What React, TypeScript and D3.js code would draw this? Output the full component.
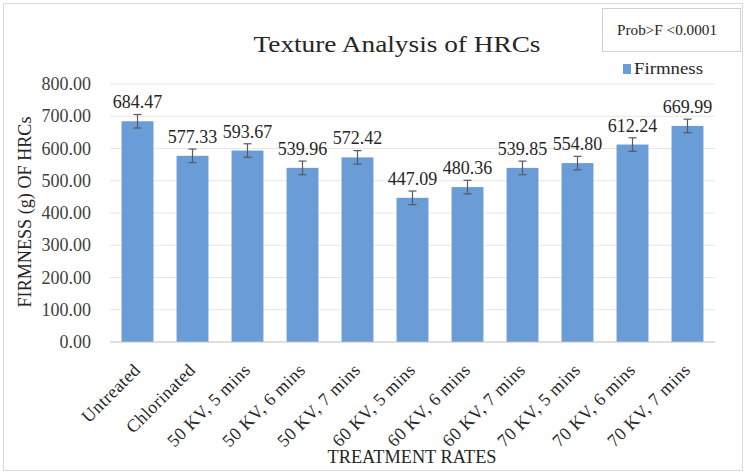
import React from "react";
import * as d3 from "d3";

const categories = ["Untreated","Chlorinated","50 KV, 5 mins","50 KV, 6 mins","50 KV, 7 mins","60 KV, 5 mins","60 KV, 6 mins","60 KV, 7 mins","70 KV, 5 mins","70 KV, 6 mins","70 KV, 7 mins"];
const firmness = [684.47,577.33,593.67,539.96,572.42,447.09,480.36,539.85,554.80,612.24,669.99];
const errors = [21,21,21,21,21,21,21,21,21,21,21];
const yTicks = [0,100,200,300,400,500,600,700,800];

const W = 747, H = 475;
const FONT = "'Liberation Serif', 'Times New Roman', serif";
const tf: React.CSSProperties = { fontFamily: FONT };

export default function App() {
  const x = d3.scaleBand<string>().domain(categories).range([110, 715]).paddingInner(0.42).paddingOuter(0.21);
  const y = d3.scaleLinear().domain([0, 800]).range([342, 84]);
  const bw = x.bandwidth();
  return (
    <svg width={W} height={H} style={{ position: "absolute", left: 0, top: 0, fontFamily: FONT }}>
      <rect x={0} y={0} width={W} height={H} fill="#fff" />
      <rect x={3.5} y={3.5} width={739} height={467} fill="none" stroke="#d9d9d9" strokeWidth={1} />
      <text style={tf} x={397} y={52} textAnchor="middle" fontSize={24} fill="#262626" textLength={287} lengthAdjust="spacingAndGlyphs">Texture Analysis of HRCs</text>
      <rect x={602.5} y={8.5} width={138} height={43} fill="#fff" stroke="#d0d0d0" strokeWidth={1} />
      <text style={tf} x={667} y={35} textAnchor="middle" fontSize={14} fill="#262626" textLength={100} lengthAdjust="spacingAndGlyphs">Prob&gt;F &lt;0.0001</text>
      <rect x={623} y={64} width={8} height={10} fill="#6a9cd8" />
      <text style={tf} x={634} y={74} fontSize={17} fill="#262626" textLength={69} lengthAdjust="spacingAndGlyphs">Firmness</text>
      {yTicks.map(t => (
        <g key={t}>
          {t > 0 && <line x1={110} x2={715} y1={y(t)} y2={y(t)} stroke="#e6e6e6" strokeWidth={1} />}
          <text style={tf} x={91} y={y(t) + 6} textAnchor="end" fontSize={18} fill="#404040">{t.toFixed(2)}</text>
        </g>
      ))}
      {categories.map((c, i) => {
        const cx = (x(c) as number) + bw / 2;
        const v = firmness[i];
        const e = errors[i];
        return (
          <g key={c}>
            <rect x={x(c)} y={y(v)} width={bw} height={y(0) - y(v)} fill="#6a9cd8" />
            <line x1={cx} x2={cx} y1={y(v + e)} y2={y(v - e)} stroke="#595959" strokeWidth={1.2} />
            <line x1={cx - 4} x2={cx + 4} y1={y(v + e)} y2={y(v + e)} stroke="#595959" strokeWidth={1.2} />
            <line x1={cx - 4} x2={cx + 4} y1={y(v - e)} y2={y(v - e)} stroke="#595959" strokeWidth={1.2} />
            <text style={tf} x={cx} y={y(v) - 13} textAnchor="middle" fontSize={18} fill="#262626">{v.toFixed(2)}</text>
            <text style={{ ...tf, letterSpacing: "0.4px" }} transform={`translate(${cx + 4},${y(0) + 29}) rotate(-45)`} textAnchor="end" fontSize={18} fill="#262626">{c}</text>
          </g>
        );
      })}
      <line x1={110} x2={715} y1={y(0)} y2={y(0)} stroke="#bfbfbf" strokeWidth={1.2} />
      <text style={tf} transform={`translate(31,212) rotate(-90)`} textAnchor="middle" fontSize={18} fill="#262626" textLength={191} lengthAdjust="spacingAndGlyphs">FIRMNESS (g) OF HRCs</text>
      <text style={tf} x={412} y={463} textAnchor="middle" fontSize={18} fill="#262626" textLength={169} lengthAdjust="spacingAndGlyphs">TREATMENT RATES</text>
    </svg>
  );
}
